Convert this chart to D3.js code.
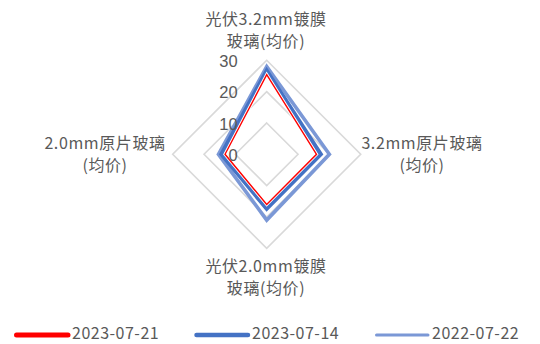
<!DOCTYPE html>
<html>
<head>
<meta charset="utf-8">
<script src="https://cdn.jsdelivr.net/npm/d3@7"></script>
<style>
  html, body { margin: 0; padding: 0; background: #fff; }
  svg { display: block; }
</style>
</head>
<body>
<div id="chart"></div>
<script>
// ---- data ----
const categories = [
  ["光伏3.2mm镀膜", "玻璃(均价)"],
  ["3.2mm原片玻璃", "(均价)"],
  ["光伏2.0mm镀膜", "玻璃(均价)"],
  ["2.0mm原片玻璃", "(均价)"]
];
const seriesNames = ["2023-07-21", "2023-07-14", "2022-07-22"];
const values20230721 = [25.4, 15.9, 16.0, 13.3];
const values20230714 = [26.6, 17.2, 17.3, 14.4];
const values20220722 = [28.0, 20.0, 21.0, 15.4];
const tickValues = [0, 10, 20, 30];

// ---- layout ----
const W = 540, H = 344;
const cx = 266.7, cy = 154.3, R = 94;
const colors = ["#FF0000", "#4472C4", "#7B98D6"];
const fontCJK = "'Noto Sans CJK SC', 'Noto Sans', sans-serif";
const fontNum = "'Liberation Sans', Arial, sans-serif";

const svg = d3.select("#chart").append("svg").attr("width", W).attr("height", H);
const g = svg.append("g").attr("transform", `translate(${cx},${cy})`);

const r = d3.scaleLinear().domain([0, 30]).range([0, R]);
const angle = d3.scaleLinear().domain([0, categories.length]).range([0, 2 * Math.PI]);

const radial = d3.lineRadial()
  .angle((d, i) => angle(i))
  .radius(d => r(d))
  .curve(d3.curveLinearClosed);

// grid rings
tickValues.filter(t => t > 0).forEach(t => {
  g.append("path")
    .attr("d", radial(categories.map(() => t)))
    .attr("fill", "none")
    .attr("stroke", "#D9D9D9")
    .attr("stroke-width", 1.6);
});

// series (light blue, blue, then red on top)
g.append("path").attr("d", radial(values20220722))
  .attr("fill", "none").attr("stroke", colors[2]).attr("stroke-width", 3.6)
  .attr("stroke-linejoin", "miter");
g.append("path").attr("d", radial(values20230714))
  .attr("fill", "none").attr("stroke", colors[1]).attr("stroke-width", 4.4)
  .attr("stroke-linejoin", "miter");
g.append("path").attr("d", radial(values20230721))
  .attr("fill", "none").attr("stroke", "#fff").attr("stroke-width", 3.2)
  .attr("stroke-linejoin", "miter");
g.append("path").attr("d", radial(values20230721))
  .attr("fill", "none").attr("stroke", colors[0]).attr("stroke-width", 1.4)
  .attr("stroke-linejoin", "miter");

// tick labels
g.selectAll("text.tick").data(tickValues).enter().append("text")
  .attr("class", "tick")
  .attr("x", -29)
  .attr("y", d => -r(d) + 1)
  .attr("dy", "0.35em")
  .attr("text-anchor", "end")
  .attr("font-family", fontNum)
  .attr("font-size", 16.5)
  .attr("fill", "#595959")
  .text(d => d);

// category labels
const labelPos = [
  { x: 266, y: 19.5 },
  { x: 422, y: 143 },
  { x: 266, y: 266 },
  { x: 105, y: 143 }
];
const lineGap = 22;
categories.forEach((lines, i) => {
  const t = svg.append("text")
    .attr("text-anchor", "middle")
    .attr("font-family", fontCJK)
    .attr("font-size", 16)
    .attr("letter-spacing", 0.6)
    .attr("fill", "#595959");
  lines.forEach((ln, j) => {
    t.append("tspan")
      .attr("x", labelPos[i].x)
      .attr("y", labelPos[i].y + j * lineGap)
      .attr("dy", "0.35em")
      .text(ln);
  });
});

// legend
const legendX = [15, 195, 375];
const legendW = [5, 4.5, 3];
const legendY = 333.5;
seriesNames.forEach((name, i) => {
  svg.append("line")
    .attr("x1", legendX[i] + 1.5).attr("x2", legendX[i] + 53)
    .attr("y1", legendY + 1.5).attr("y2", legendY + 1.5)
    .attr("stroke", colors[i]).attr("stroke-width", legendW[i])
    .attr("stroke-linecap", "round");
  svg.append("text")
    .attr("x", legendX[i] + 57)
    .attr("y", legendY)
    .attr("dy", "0.35em")
    .attr("font-family", fontCJK)
    .attr("font-size", 16)
    .attr("letter-spacing", 0.5)
    .attr("fill", "#595959")
    .text(name);
});
</script>
</body>
</html>
